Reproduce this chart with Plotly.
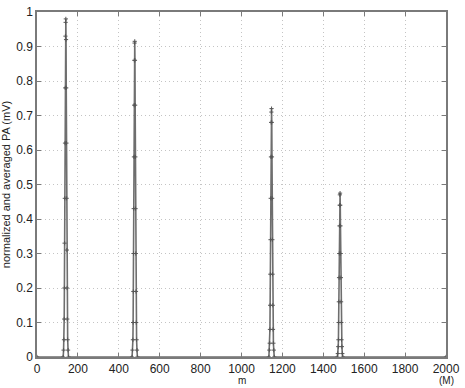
import plotly.graph_objects as go

# Peak 1 (~m=141)
p1_x = [128, 130, 132, 133, 134, 135, 136, 137, 138, 139, 140, 141, 142, 143, 144, 145, 146, 147, 148, 150, 152, 154]
p1_y = [0.0, 0.02, 0.05, 0.11, 0.20, 0.33, 0.46, 0.62, 0.78, 0.93, 0.97, 0.98, 0.92, 0.78, 0.62, 0.46, 0.31, 0.20, 0.11, 0.05, 0.02, 0.0]
# Peak 2 (~m=478)
p2_x = [465, 467, 469, 470, 471, 472, 473, 474, 475, 476, 477, 478, 479, 480, 481, 482, 483, 484, 485, 487, 489, 491]
p2_y = [0.0, 0.02, 0.05, 0.10, 0.19, 0.30, 0.43, 0.58, 0.73, 0.86, 0.91, 0.915, 0.86, 0.73, 0.58, 0.43, 0.30, 0.19, 0.10, 0.05, 0.02, 0.0]
# Peak 3 (~m=1147)
p3_x = [1134, 1136, 1138, 1139, 1140, 1141, 1142, 1143, 1144, 1145, 1146, 1147, 1148, 1149, 1150, 1151, 1152, 1153, 1154, 1156, 1158, 1160]
p3_y = [0.0, 0.02, 0.04, 0.08, 0.15, 0.24, 0.34, 0.46, 0.58, 0.68, 0.71, 0.72, 0.68, 0.58, 0.46, 0.34, 0.24, 0.15, 0.08, 0.04, 0.02, 0.0]
# Peak 4 (~m=1482)
p4_x = [1469, 1471, 1473, 1474, 1475, 1476, 1477, 1478, 1479, 1480, 1481, 1482, 1483, 1484, 1485, 1486, 1487, 1488, 1489, 1491, 1493, 1495]
p4_y = [0.0, 0.01, 0.03, 0.05, 0.10, 0.16, 0.23, 0.30, 0.38, 0.44, 0.47, 0.475, 0.44, 0.38, 0.30, 0.23, 0.16, 0.10, 0.05, 0.03, 0.01, 0.0]

x_ticks = list(range(0, 2001, 200))
y_ticks = [0, 0.1, 0.2, 0.3, 0.4, 0.5, 0.6, 0.7, 0.8, 0.9, 1]
y_tick_text = ["0", "0.1", "0.2", "0.3", "0.4", "0.5", "0.6", "0.7", "0.8", "0.9", "1"]

xs = [0] + p1_x + p2_x + p3_x + p4_x + [2000]
ys = [0] + p1_y + p2_y + p3_y + p4_y + [0]

fig = go.Figure()
fig.add_trace(go.Scatter(
    x=xs, y=ys, mode="lines+markers",
    line=dict(color="#6e6e6e", width=1.6),
    marker=dict(symbol="cross-thin", size=3, color="#555555", line=dict(width=1, color="#555555")),
    showlegend=False, hoverinfo="skip",
))

font = dict(family="Liberation Sans, Arial, sans-serif", size=12, color="#222222")
title_font = dict(family="Liberation Sans, Arial, sans-serif", size=11, color="#222222")
small_font = dict(family="Liberation Sans, Arial, sans-serif", size=10, color="#222222")
axis_common = dict(
    showline=True, linecolor="#7a7a7a", linewidth=1.5, mirror="ticks",
    ticks="inside", ticklen=4, tickcolor="#7a7a7a",
    showgrid=True, gridcolor="#c4c4c4", griddash="1px,3px", gridwidth=1,
    zeroline=False, tickfont=font,
)
fig.update_xaxes(range=[0, 2000], tickvals=x_ticks, ticktext=[str(v) for v in x_ticks], **axis_common)
fig.update_yaxes(range=[0, 1], tickvals=y_ticks, ticktext=y_tick_text,
                 title=dict(text="normalized and averaged PA (mV)", font=title_font, standoff=3), **axis_common)

fig.add_annotation(text="m", xref="paper", yref="paper", x=0.5, y=0, yshift=-31,
                   showarrow=False, font=small_font, yanchor="bottom")
fig.add_annotation(text="(M)", xref="paper", yref="paper", x=1.0, y=0, yshift=-31,
                   showarrow=False, font=small_font, yanchor="bottom", xanchor="center")

fig.update_layout(
    width=465, height=388,
    margin=dict(l=37, r=15, t=5, b=31),
    paper_bgcolor="white", plot_bgcolor="white",
    font=font,
)
fig.write_html("out.html")
